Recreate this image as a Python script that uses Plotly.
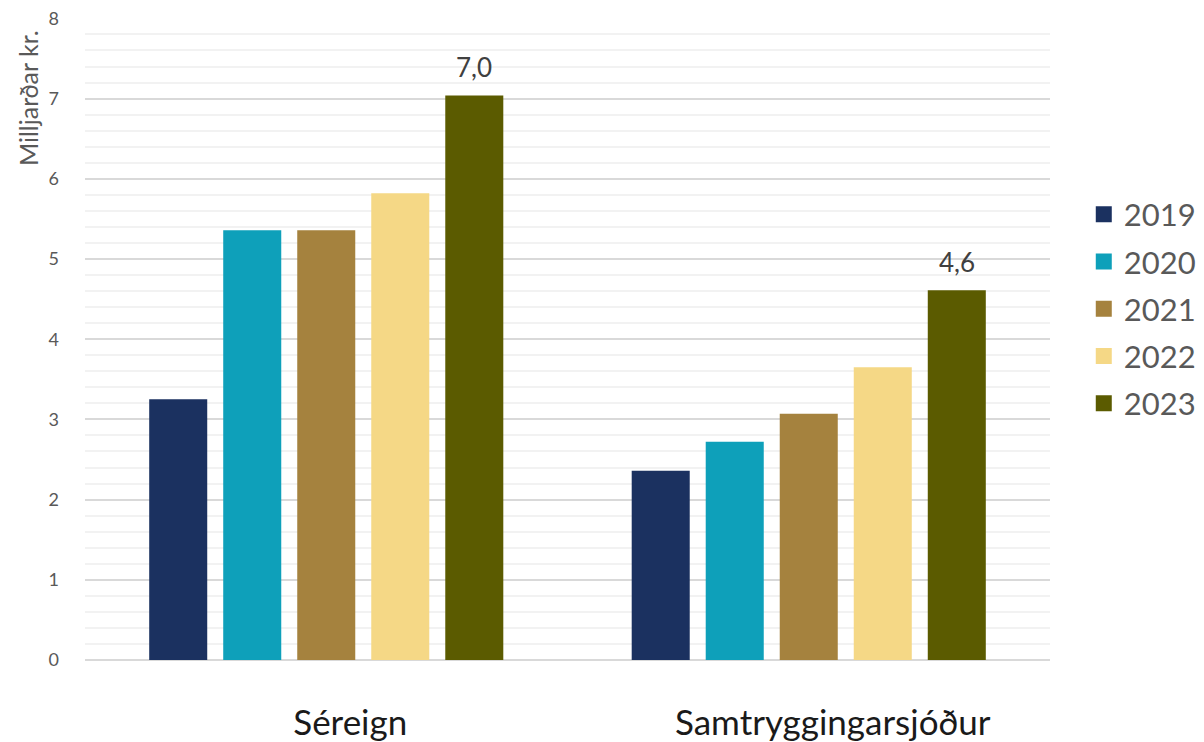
import plotly.graph_objects as go

categories = ["Séreign", "Samtryggingarsjóður"]
years = ["2019", "2020", "2021", "2022", "2023"]
v2019 = [3.25, 2.36]
v2020 = [5.36, 2.72]
v2021 = [5.36, 3.07]
v2022 = [5.82, 3.65]
v2023 = [7.04, 4.61]
series = [v2019, v2020, v2021, v2022, v2023]
colors = ["#1B3160", "#0EA0BA", "#A5823E", "#F5D886", "#5B5B00"]
y_title = "Milljarðar kr."
font = "Lato"

# page body has an 8px margin, so the figure is 8px smaller than the window
W, H = 1196, 734
ML, MR, MT, MB = 77, 154, 10, 82
BARGAP, GROUPGAP = 0.233, 0.216

fig = go.Figure()
for yr, vals, col in zip(years, series, colors):
    fig.add_trace(go.Bar(
        x=categories, y=vals, name=yr, marker=dict(color=col, line=dict(width=0)),
        showlegend=False, legendgroup=yr,
    ))
for yr, col in zip(years, colors):
    fig.add_trace(go.Scatter(
        x=[None], y=[None], mode="markers", name=yr, legendgroup=yr,
        marker=dict(symbol="square", size=20, color=col),
    ))

# value labels above the last series' bars
plot_w = W - ML - MR
slot = plot_w / len(categories) * (1 - BARGAP) / len(years)
last_offset = slot * (len(years) - 1) / 2
annotations = [
    dict(x=c, y=v, text=f"{v:.1f}".replace(".", ","), xref="x", yref="y",
         xshift=last_offset, yshift=28, showarrow=False, yanchor="middle",
         font=dict(size=26, color="#404040", family=font))
    for c, v in zip(categories, v2023)
]
annotations.append(dict(text=y_title, textangle=-90, xref="paper", yref="paper",
                        x=-0.059, y=1.0, xanchor="center", yanchor="top", yshift=-10,
                        showarrow=False,
                        font=dict(size=25, color="#595959", family=font)))

fig.update_layout(
    width=W, height=H,
    margin=dict(l=ML, r=MR, t=MT, b=MB, autoexpand=False),
    paper_bgcolor="white", plot_bgcolor="white",
    barmode="group", bargap=BARGAP, bargroupgap=GROUPGAP,
    separators=",.",
    font=dict(family=font, color="#595959"),
    showlegend=True,
    legend=dict(x=1.035, y=0.736, xanchor="left", yanchor="top",
                font=dict(size=31, color="#595959", family=font),
                tracegroupgap=4, itemsizing="trace"),
    annotations=annotations,
)
fig.update_xaxes(showgrid=False, showline=False, ticks="", automargin=False,
                 tickfont=dict(size=35, color="#1a1a1a", family=font),
                 ticklabelstandoff=39, ticklabelshift=24)
fig.update_yaxes(range=[0, 8.005], tick0=0, dtick=1, showgrid=True, gridcolor="#D9D9D9", gridwidth=1.5,
                 zeroline=True, zerolinecolor="#D9D9D9", zerolinewidth=1.5, automargin=False,
                 minor=dict(dtick=0.2, showgrid=True, gridcolor="#F2F2F2", gridwidth=1.5),
                 tickfont=dict(size=18, color="#595959", family=font),
                 ticklabeloverflow="allow",
                 ticks="", ticklabelstandoff=25)

fig.write_html("out.html")
